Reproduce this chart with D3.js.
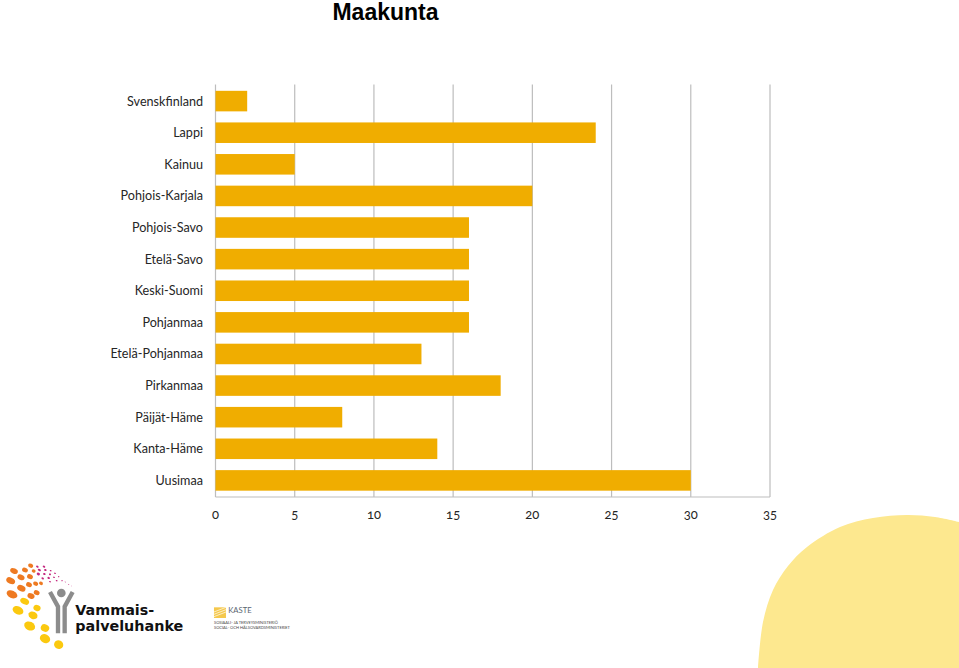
<!DOCTYPE html>
<html>
<head>
<meta charset="utf-8">
<script src="https://cdn.jsdelivr.net/npm/d3@7"></script>
<style>
  html, body { margin: 0; padding: 0; background: #fff; }
  svg { display: block; }
  text { font-family: Lato, "Open Sans", sans-serif; fill: #262626; }
</style>
</head>
<body>
<div id="container"></div>
<script>
// chart data, top row first
var categories = ["Svenskfinland", "Lappi", "Kainuu", "Pohjois-Karjala", "Pohjois-Savo", "Etelä-Savo",
    "Keski-Suomi", "Pohjanmaa", "Etelä-Pohjanmaa", "Pirkanmaa", "Päijät-Häme", "Kanta-Häme", "Uusimaa"];
var values = [2, 24, 5, 20, 16, 16, 16, 16, 13, 18, 8, 14, 30];
var tickValues = [0, 5, 10, 15, 20, 25, 30, 35];

// decoration in the corners of the slide
var blobOutline = [[758, 668], [763, 622], [773, 590], [788, 566], [807, 547], [840, 527], [873, 518], [907, 515], [935, 517], [959, 522]];
var orangeDots = [[92, 47, 8, 6], [42, 63, 12, 8], [75, 60, 9, 7], [101, 63, 6, 5], [32, 92, 14, 9], [63, 82, 11, 8], [90, 80, 9, 7],
    [64, 115, 13, 9], [87, 104, 9, 7], [107, 101, 8, 6], [123, 100, 6, 5], [36, 133, 17, 11], [93, 138, 11, 8], [110, 128, 9, 7]];
var yellowDots = [[74, 154, 14, 9], [54, 181, 17, 12], [111, 174, 11, 9], [99, 196, 14, 11], [89, 228, 17, 13],
    [135, 234, 13, 11], [135, 266, 16, 13], [176, 284, 14, 13]];
var pinkDots = [[112, 50, 4, 3], [132, 50, 4, 3], [118, 60, 5, 3], [136, 60, 4, 3], [152, 62, 3, 2], [115, 72, 5, 4], [133, 72, 4, 3],
    [150, 73, 3, 3], [165, 70, 3, 2], [128, 85, 4, 3], [146, 84, 4, 3], [162, 82, 3, 2], [176, 80, 2, 2], [150, 95, 3, 2],
    [170, 92, 3, 2], [186, 92, 2, 2], [196, 96, 2, 1], [206, 103, 2, 1], [214, 108, 1, 1]];
var kasteStripes = [180, 187, 194];

var width = 959, height = 668;
var margin = { top: 84.5, left: 215.5, right: 189, bottom: 171 };

var svg = d3.select("#container").append("svg")
    .attr("width", width)
    .attr("height", height);

svg.append("text")
    .attr("x", 385.5)
    .attr("y", 20)
    .attr("text-anchor", "middle")
    .style("font-family", "'Liberation Sans', Arial, sans-serif")
    .style("font-weight", "bold")
    .style("font-size", "23px")
    .style("fill", "#000")
    .text("Maakunta");

var x = d3.scaleLinear().domain([0, 35]).range([margin.left, width - margin.right]);
var y = d3.scaleBand().domain(categories).range([margin.top, height - margin.bottom]).paddingInner(0.35).paddingOuter(0.2);

// grid
svg.append("g").selectAll("line")
    .data(tickValues)
    .join("line")
    .attr("x1", d => x(d))
    .attr("x2", d => x(d))
    .attr("y1", margin.top)
    .attr("y2", height - margin.bottom)
    .attr("stroke", "#bdbdbd")
    .attr("stroke-width", 1.2);

svg.append("line")
    .attr("x1", x(0))
    .attr("x2", x(35))
    .attr("y1", height - margin.bottom)
    .attr("y2", height - margin.bottom)
    .attr("stroke", "#bdbdbd")
    .attr("stroke-width", 1.2);

// bars
svg.append("g").selectAll("rect")
    .data(values)
    .join("rect")
    .attr("x", x(0))
    .attr("y", (d, i) => y(categories[i]))
    .attr("width", d => x(d) - x(0))
    .attr("height", y.bandwidth())
    .attr("fill", "#f0ad00");

// category labels
svg.append("g").selectAll("text")
    .data(categories)
    .join("text")
    .attr("x", 203)
    .attr("y", d => y(d) + y.bandwidth() / 2)
    .attr("dy", ".35em")
    .attr("text-anchor", "end")
    .style("font-size", "12.6px")
    .text(d => d);

// value axis labels
svg.append("g").selectAll("text")
    .data(tickValues)
    .join("text")
    .attr("x", d => x(d))
    .attr("y", 519)
    .attr("text-anchor", "middle")
    .style("font-size", "13px")
    .style("font-feature-settings", "'onum'")
    .text(d => d);

// blob bottom right
svg.append("path")
    .attr("d", d3.line().curve(d3.curveCatmullRom)(blobOutline) + "L959,668Z")
    .attr("fill", "#fde88f");

// Vammaispalveluhanke logo, drawn in 3x units
var logo = svg.append("g").attr("transform", "translate(0,550) scale(0.3333)");

function drawDots(list, color) {
    logo.append("g").selectAll("ellipse")
        .data(list)
        .join("ellipse")
        .attr("transform", d => `translate(${d[0]},${d[1]}) rotate(25)`)
        .attr("rx", d => d[2])
        .attr("ry", d => d[3])
        .attr("fill", color);
}
drawDots(orangeDots, "#ee7a22");
drawDots(yellowDots, "#fbc90f");
drawDots(pinkDots, "#c4297f");

logo.append("circle").attr("cx", 184).attr("cy", 129).attr("r", 13).attr("fill", "#8c8c8c");
logo.append("path")
    .attr("d", "M150,126 L174,170 L174,250 M218,126 L194,170 L194,250")
    .attr("fill", "none")
    .attr("stroke", "#8c8c8c")
    .attr("stroke-width", 13);

logo.append("text").attr("x", 226).attr("y", 195)
    .style("font-family", "'DejaVu Sans', sans-serif")
    .style("font-weight", "bold").style("font-size", "43px").style("fill", "#111")
    .text("Vammais-");
logo.append("text").attr("x", 226).attr("y", 242)
    .style("font-family", "'DejaVu Sans', sans-serif")
    .style("font-weight", "bold").style("font-size", "43px").style("fill", "#111")
    .text("palveluhanke");

// KASTE logo
logo.append("rect").attr("x", 642).attr("y", 172).attr("width", 36).attr("height", 32).attr("fill", "#f5c84c");
logo.append("g").selectAll("line")
    .data(kasteStripes)
    .join("line")
    .attr("x1", 642)
    .attr("x2", 678)
    .attr("y1", d => d + 6)
    .attr("y2", d => d - 8)
    .attr("stroke", "#fff")
    .attr("stroke-width", 2);
logo.append("text").attr("x", 685).attr("y", 190)
    .style("font-size", "23px").style("fill", "#5a6570")
    .text("KASTE");
logo.append("text").attr("x", 642).attr("y", 223)
    .style("font-size", "12px").style("fill", "#444")
    .text("SOSIAALI- JA TERVEYSMINISTERIÖ");
logo.append("text").attr("x", 642).attr("y", 238)
    .style("font-size", "12px").style("fill", "#444")
    .text("SOCIAL- OCH HÄLSOVÅRDSMINISTERIET");
</script>
</body>
</html>
